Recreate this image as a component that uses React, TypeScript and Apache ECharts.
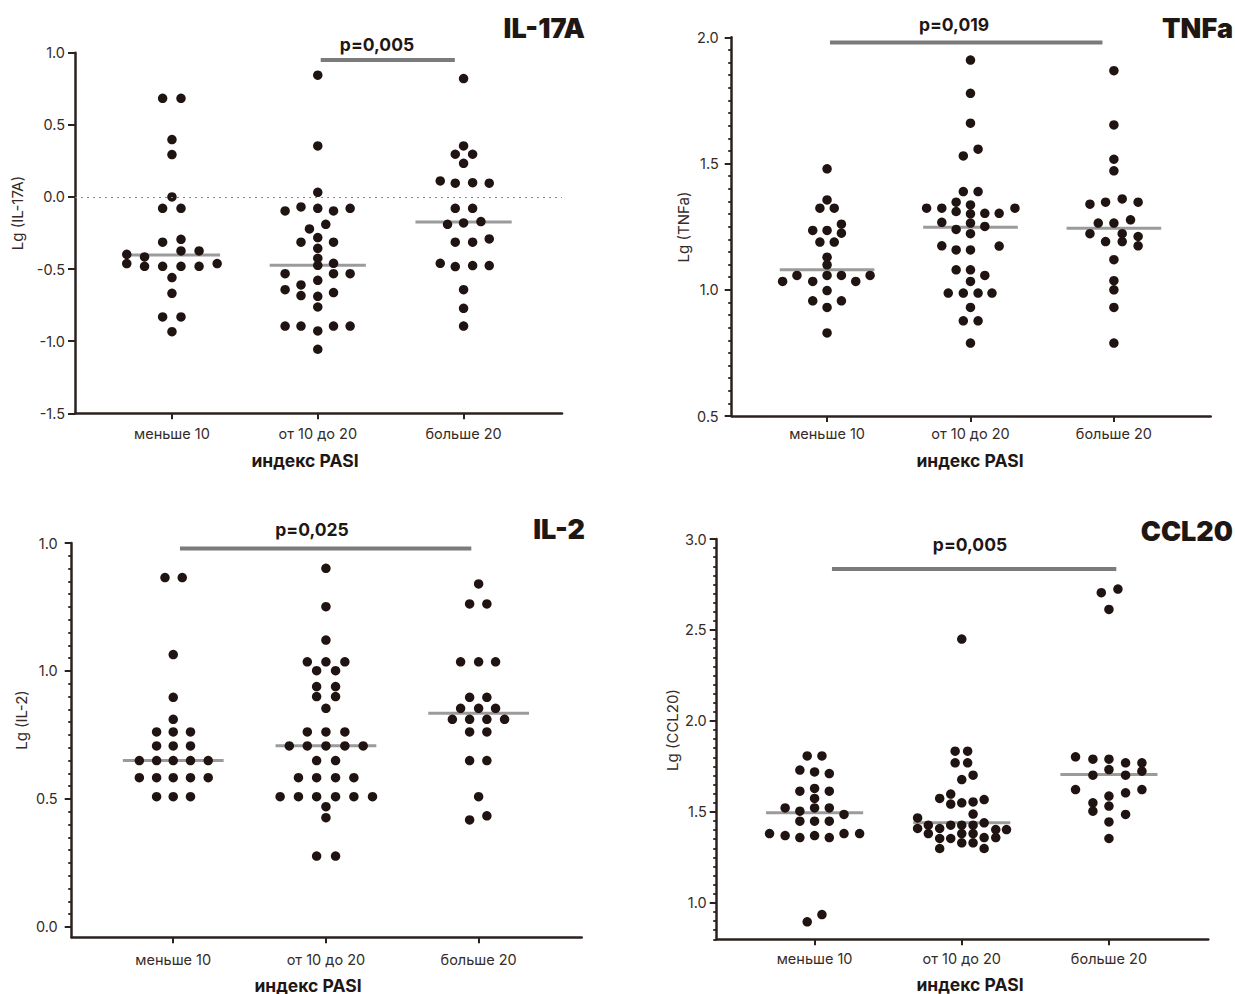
import React, { useEffect, useRef } from "react";
import * as echarts from "echarts";

// ---------- DATA ----------
const categories = ["меньше 10", "от 10 до 20", "больше 20"];

// each point: [horizontal jitter inside the group (category units), value]
const il17aLow = [
  [-0.064, 0.684], [0.062, 0.684], [0, 0.398], [0, 0.294], [0, 0.0],
  [-0.064, -0.079], [0.062, -0.079], [0.062, -0.294], [-0.064, -0.314],
  [0.062, -0.374], [0.186, -0.374], [-0.31, -0.398], [-0.188, -0.416],
  [-0.31, -0.462], [-0.188, -0.481], [-0.064, -0.481], [0.062, -0.481], [0.186, -0.481], [0.31, -0.462],
  [0, -0.559], [0, -0.668], [-0.064, -0.832], [0.062, -0.832], [0, -0.934],
];
const il17aMid = [
  [0, 0.844], [0, 0.354], [0, 0.032],
  [-0.224, -0.097], [-0.115, -0.069], [0, -0.079], [0.108, -0.097], [0.222, -0.079],
  [0.055, -0.19], [-0.057, -0.222], [-0.115, -0.314], [0, -0.282], [0.108, -0.314],
  [0, -0.356], [0, -0.425], [0, -0.474], [0.108, -0.46],
  [-0.224, -0.532], [0.108, -0.532], [0.222, -0.532],
  [0, -0.578], [-0.115, -0.61], [-0.224, -0.643], [0.108, -0.663], [-0.115, -0.684], [0, -0.689],
  [0, -0.763], [-0.224, -0.895], [-0.115, -0.895], [0, -0.929], [0.108, -0.895], [0.222, -0.895],
  [0, -1.056],
];
const il17aHigh = [
  [0, 0.821], [0, 0.354], [-0.057, 0.296], [0.062, 0.296], [0, 0.233],
  [-0.16, 0.111], [-0.057, 0.095], [0.062, 0.099], [0.176, 0.095],
  [-0.057, -0.079], [0.062, -0.079], [-0.11, -0.19], [0, -0.18], [0.119, -0.171],
  [-0.057, -0.314], [0.062, -0.314], [0.176, -0.291],
  [-0.16, -0.46], [-0.057, -0.483], [0.062, -0.476], [0.176, -0.476],
  [0, -0.643], [0, -0.772], [0, -0.895],
];
const il17aMedians = [-0.402, -0.474, -0.173];
const il17aP = { from: 2.02, to: 2.94, y: 0.95, text: "p=0,005" };
const il17aTickValues = [-1.5, -1.0, -0.5, 0, 0.5, 1.0];
const il17aTickLabels = ["-1.5", "-1.0", "-0.5", "0.0", "0.5", "1.0"];

const tnfLow = [
  [0, 1.479], [0, 1.356], [-0.05, 1.323], [0.05, 1.323],
  [0.1, 1.26], [-0.1, 1.235], [0, 1.235], [0.1, 1.224],
  [-0.05, 1.189], [0.05, 1.189], [0, 1.129], [0, 1.099],
  [-0.31, 1.033], [-0.21, 1.057], [-0.1, 1.033], [0, 1.057], [0.1, 1.057], [0.2, 1.033], [0.3, 1.057],
  [0, 0.997], [-0.1, 0.956], [0.1, 0.956], [0, 0.93], [0, 0.829],
];
const tnfMid = [
  [0, 1.91], [0, 1.778], [0, 1.66], [-0.05, 1.53], [0.053, 1.557],
  [-0.05, 1.389], [0.053, 1.389],
  [-0.306, 1.323], [-0.2, 1.323], [-0.1, 1.347], [0, 1.336], [-0.1, 1.31], [0, 1.301], [0.1, 1.303], [0.2, 1.303], [0.31, 1.323],
  [-0.2, 1.267], [0, 1.264], [0.1, 1.251], [-0.1, 1.239], [0, 1.222],
  [-0.2, 1.174], [0.2, 1.173], [-0.1, 1.158], [0, 1.158],
  [-0.1, 1.079], [0, 1.079], [0.1, 1.057], [0, 1.033],
  [-0.155, 0.987], [-0.05, 0.987], [0.053, 0.987], [0.15, 0.987],
  [0, 0.93], [-0.05, 0.877], [0.053, 0.877], [0, 0.789],
];
const tnfHigh = [
  [0, 1.868], [0, 1.653], [0, 1.517], [0, 1.471],
  [-0.167, 1.339], [-0.058, 1.347], [0.058, 1.36], [0.169, 1.347],
  [-0.109, 1.264], [0, 1.264], [0.116, 1.277],
  [-0.167, 1.222], [0.058, 1.222], [0.169, 1.211],
  [-0.058, 1.191], [0.058, 1.191], [0.169, 1.174],
  [0, 1.119], [0, 1.036], [0, 1.0], [0, 0.93], [0, 0.789],
];
const tnfMedians = [1.079, 1.248, 1.244];
const tnfP = { from: 1.02, to: 2.92, y: 1.979, text: "p=0,019" };
const tnfTickValues = [0.5, 1.0, 1.5, 2.0];
const tnfTickLabels = ["0.5", "1.0", "1.5", "2.0"];

const il2Low = [
  [-0.054, 1.365], [0.059, 1.365], [0, 1.064], [0, 0.897], [0, 0.811],
  [-0.109, 0.762], [0, 0.762], [0.113, 0.762],
  [-0.109, 0.707], [0, 0.707], [0.113, 0.707],
  [-0.222, 0.65], [-0.109, 0.65], [0, 0.65], [0.113, 0.65], [0.229, 0.65],
  [-0.222, 0.583], [-0.109, 0.583], [0, 0.583], [0.113, 0.583], [0.229, 0.583],
  [-0.109, 0.509], [0, 0.509], [0.113, 0.509],
];
const il2Mid = [
  [0, 1.401], [0, 1.251], [0, 1.121],
  [-0.122, 1.036], [0, 1.036], [0.124, 1.036], [-0.061, 1.001], [0.063, 1.001],
  [-0.061, 0.939], [0.063, 0.939], [-0.061, 0.9], [0.063, 0.9], [0, 0.854],
  [-0.122, 0.762], [0, 0.762], [0.124, 0.762],
  [-0.24, 0.707], [-0.122, 0.707], [0, 0.707], [0.124, 0.707], [0.244, 0.707],
  [-0.061, 0.65], [0.063, 0.65],
  [-0.18, 0.583], [-0.061, 0.583], [0.063, 0.583], [0.183, 0.583],
  [-0.3, 0.509], [-0.18, 0.509], [-0.061, 0.509], [0.063, 0.509], [0.183, 0.509], [0.305, 0.509],
  [0, 0.47], [0, 0.427], [-0.061, 0.277], [0.063, 0.277],
];
const il2High = [
  [0, 1.34], [-0.059, 1.262], [0.054, 1.262],
  [-0.118, 1.036], [0, 1.036], [0.111, 1.036],
  [-0.059, 0.897], [0.054, 0.897],
  [-0.118, 0.854], [0, 0.854], [0.111, 0.854],
  [-0.172, 0.811], [-0.059, 0.811], [0.054, 0.811], [0.17, 0.811],
  [-0.059, 0.762], [0.054, 0.762], [-0.059, 0.65], [0.054, 0.65],
  [0, 0.509], [-0.059, 0.418], [0.054, 0.434],
];
const il2Medians = [0.65, 0.708, 0.835];
const il2P = { from: 1.044, to: 2.952, y: 1.479, text: "p=0,025" };
const il2TickValues = [0, 0.5, 1.0, 1.5];
const il2TickLabels = ["0.0", "0.5", "1.0", "1.0"];

const cclLow = [
  [-0.05, 1.808], [0.05, 1.808], [-0.1, 1.73], [0, 1.72], [0.1, 1.711],
  [-0.1, 1.614], [0, 1.629], [0.1, 1.614], [0, 1.574],
  [-0.2, 1.522], [0, 1.522], [0.1, 1.522], [-0.1, 1.504], [0.2, 1.486],
  [-0.1, 1.449], [0, 1.449], [0.1, 1.449],
  [-0.306, 1.381], [-0.2, 1.37], [-0.1, 1.359], [0, 1.37], [0.1, 1.359], [0.2, 1.381], [0.306, 1.381],
  [-0.05, 0.896], [0.05, 0.936],
];
const cclMid = [
  [0, 2.45], [-0.045, 1.834], [0.04, 1.834], [-0.045, 1.77], [0.04, 1.77],
  [0, 1.678], [0.077, 1.702], [-0.15, 1.574], [-0.075, 1.598],
  [-0.075, 1.543], [0, 1.55], [0.077, 1.555], [0.152, 1.568],
  [0.077, 1.488], [-0.3, 1.467],
  [-0.3, 1.409], [-0.227, 1.427], [-0.15, 1.409], [-0.075, 1.427], [0, 1.427], [0.077, 1.427], [0.152, 1.44], [0.231, 1.403], [0.304, 1.403],
  [-0.227, 1.381], [0, 1.381], [0.077, 1.381],
  [-0.15, 1.354], [-0.075, 1.354], [0.152, 1.359], [0.231, 1.359],
  [0, 1.33], [0.077, 1.33], [-0.15, 1.299], [0.152, 1.299],
];
const cclHigh = [
  [-0.052, 2.705], [0.061, 2.725], [0, 2.613],
  [-0.227, 1.803], [-0.109, 1.79], [0, 1.79], [0.113, 1.77], [0.224, 1.77],
  [0, 1.733], [0.224, 1.724], [-0.109, 1.702], [0.113, 1.702],
  [-0.227, 1.623], [0.113, 1.605], [0.224, 1.623], [0, 1.587],
  [-0.109, 1.55], [-0.109, 1.504], [0, 1.532], [0.113, 1.486], [0, 1.445], [0, 1.354],
];
const cclMedians = [1.495, 1.44, 1.706];
const cclP = { from: 1.118, to: 3.05, y: 2.835, text: "p=0,005" };
const cclTickValues = [1.0, 1.5, 2.0, 2.5, 3.0];
const cclTickLabels = ["1.0", "1.5", "2.0", "2.5", "3.0"];

// ---------- LAYOUT / STYLE ----------
const FONT = "Inter, 'Noto Sans', sans-serif";
const DOT = "#1f1412";
const AXIS = "#2b221f";
const TXT = "#352b28";

const panels = [
  {
    title: "IL-17A", yName: "Lg (IL-17A)",
    groups: [il17aLow, il17aMid, il17aHigh], medians: il17aMedians, p: il17aP,
    ticks: il17aTickValues, tickLabels: il17aTickLabels, yMin: -1.5, yMax: 1.0, minor: null as null | number,
    grid: { left: 75, top: 52.7, width: 487, height: 360.6 }, yLabelMargin: 10, xLabelMargin: 13,
    yNamePos: [17, 213], xNamePos: [305, 460], pPos: [377, 44], titlePos: [585, 28], zeroLine: true,
  },
  {
    title: "TNFa", yName: "Lg (TNFa)",
    groups: [tnfLow, tnfMid, tnfHigh], medians: tnfMedians, p: tnfP,
    ticks: tnfTickValues, tickLabels: tnfTickLabels, yMin: 0.5, yMax: 2.0, minor: 0.05,
    grid: { left: 731.7, top: 37.3, width: 479, height: 378.7 }, yLabelMargin: 13, xLabelMargin: 10,
    yNamePos: [683, 227], xNamePos: [970, 460], pPos: [954, 24], titlePos: [1233, 28], zeroLine: false,
  },
  {
    title: "IL-2", yName: "Lg (IL-2)",
    groups: [il2Low, il2Mid, il2High], medians: il2Medians, p: il2P,
    ticks: il2TickValues, tickLabels: il2TickLabels, yMin: -0.04, yMax: 1.5, minor: 0.05,
    grid: { left: 71.7, top: 543, width: 510, height: 394.2 }, yLabelMargin: 14, xLabelMargin: 15,
    yNamePos: [21, 720], xNamePos: [308, 985], pPos: [312, 529], titlePos: [585, 529], zeroLine: false,
  },
  {
    title: "CCL20", yName: "Lg (CCL20)",
    groups: [cclLow, cclMid, cclHigh], medians: cclMedians, p: cclP,
    ticks: cclTickValues, tickLabels: cclTickLabels, yMin: 0.8, yMax: 3.0, minor: 0.05,
    grid: { left: 716.7, top: 539, width: 491.6, height: 400.3 }, yLabelMargin: 10, xLabelMargin: 12,
    yNamePos: [672, 730], xNamePos: [970, 984], pPos: [970, 544], titlePos: [1233, 531], zeroLine: false,
  },
];

const X_MIN = 0.335;
const X_MAX = 3.675;
const MED_HALF = 0.33;

function minorValues(min: number, max: number, step: number) {
  const out: number[] = [];
  const start = Math.ceil(min / step - 1e-9);
  const end = Math.floor(max / step + 1e-9);
  for (let k = start; k <= end; k++) out.push(+(k * step).toFixed(4));
  return out;
}

function buildOption() {
  const grid: any[] = [];
  const xAxis: any[] = [];
  const yAxis: any[] = [];
  const series: any[] = [];
  const graphic: any[] = [];

  panels.forEach((p, i) => {
    grid.push({ ...p.grid, containLabel: false, outerBoundsMode: "none" });
    xAxis.push({
      type: "value", gridIndex: i, min: X_MIN, max: X_MAX,
      axisLine: { show: true, onZero: false, lineStyle: { color: AXIS, width: 2.5 } },
      axisTick: { show: true, customValues: [1, 2, 3], length: 6, lineStyle: { color: AXIS, width: 2 } },
      axisLabel: {
        show: true, customValues: [1, 2, 3], margin: p.xLabelMargin,
        formatter: (v: number) => categories[Math.round(v) - 1] ?? "",
        color: TXT, fontSize: 14.5, fontFamily: FONT,
      },
      splitLine: { show: false },
    });
    yAxis.push({
      type: "value", gridIndex: i, position: "left", min: p.yMin, max: p.yMax,
      axisLine: { show: true, onZero: false, lineStyle: { color: AXIS, width: 2.5 } },
      axisTick: { show: true, customValues: p.ticks, length: 7, lineStyle: { color: AXIS, width: 2 } },
      axisLabel: {
        show: true, customValues: p.ticks, margin: p.yLabelMargin,
        formatter: (v: number) => {
          const k = p.ticks.findIndex((t) => Math.abs(t - v) < 1e-6);
          return k >= 0 ? p.tickLabels[k] : "";
        },
        color: TXT, fontSize: 14.5, fontFamily: FONT,
      },
      splitLine: { show: false },
    });

    // median lines
    p.medians.forEach((m, g) => {
      series.push({
        type: "line", xAxisIndex: i, yAxisIndex: i, symbol: "none", silent: true, z: 2,
        data: [[g + 1 - MED_HALF, m], [g + 1 + MED_HALF, m]],
        lineStyle: { color: "#9b9b9b", width: 3 },
      });
    });
    // significance bar
    series.push({
      type: "line", xAxisIndex: i, yAxisIndex: i, symbol: "none", silent: true, z: 2,
      data: [[p.p.from, p.p.y], [p.p.to, p.p.y]],
      lineStyle: { color: "#7b7b7b", width: 4 },
    });
    // dots
    const pts: number[][] = [];
    p.groups.forEach((grp, g) => grp.forEach(([off, v]) => pts.push([g + 1 + off, v])));
    series.push({
      type: "scatter", xAxisIndex: i, yAxisIndex: i, symbol: "circle", symbolSize: 9.5, z: 3,
      itemStyle: { color: DOT, opacity: 1 }, data: pts,
      markLine: p.zeroLine
        ? {
            silent: true, symbol: "none", label: { show: false },
            lineStyle: { color: "#8a8a8a", width: 1.2, type: [2, 4] },
            data: [{ yAxis: 0 }],
          }
        : undefined,
    });

    // texts
    graphic.push({
      type: "text", x: p.titlePos[0], y: p.titlePos[1],
      style: { text: p.title, align: "right", verticalAlign: "middle", textAlign: "right", textVerticalAlign: "middle",
        fill: "#1f1714", font: `900 27px ${FONT}` },
    });
    graphic.push({
      type: "text", x: p.pPos[0], y: p.pPos[1],
      style: { text: p.p.text, align: "center", verticalAlign: "middle", textAlign: "center", textVerticalAlign: "middle",
        fill: "#1f1714", font: `700 17.5px ${FONT}` },
    });
    graphic.push({
      type: "text", x: p.xNamePos[0], y: p.xNamePos[1],
      style: { text: "индекс PASI", align: "center", verticalAlign: "middle", textAlign: "center", textVerticalAlign: "middle",
        fill: "#1f1714", font: `700 17.5px ${FONT}` },
    });
    graphic.push({
      type: "text", x: p.yNamePos[0], y: p.yNamePos[1], rotation: Math.PI / 2,
      style: { text: p.yName, align: "center", verticalAlign: "middle", textAlign: "center", textVerticalAlign: "middle",
        fill: TXT, font: `400 15px ${FONT}` },
    });
  });

  // minor tick axes
  panels.forEach((p, i) => {
    if (!p.minor) return;
    yAxis.push({
      type: "value", gridIndex: i, position: "left", min: p.yMin, max: p.yMax,
      axisLine: { show: false, onZero: false },
      axisTick: { show: true, customValues: minorValues(p.yMin, p.yMax, p.minor), length: 3.5,
        lineStyle: { color: AXIS, width: 1.8 } },
      axisLabel: { show: false },
      splitLine: { show: false },
    });
  });

  return { animation: false, backgroundColor: "#ffffff", grid, xAxis, yAxis, series, graphic };
}

export default function App() {
  const ref = useRef<HTMLDivElement>(null);
  useEffect(() => {
    if (!ref.current) return;
    const chart = echarts.init(ref.current, undefined, { renderer: "svg" });
    chart.setOption(buildOption() as any);
    return () => chart.dispose();
  }, []);
  return (
    <div
      ref={ref}
      style={{ position: "absolute", left: 0, top: 0, width: 1235, height: 994, background: "#fff" }}
    />
  );
}
